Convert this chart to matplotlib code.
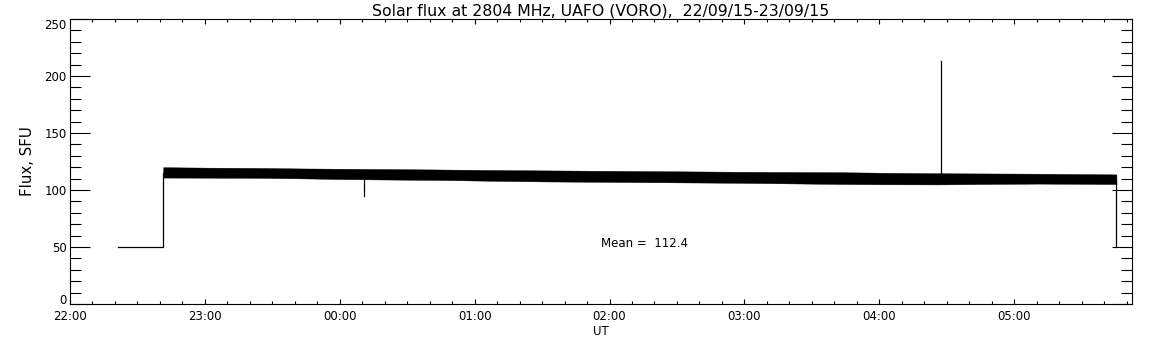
import matplotlib
matplotlib.use("Agg")
import matplotlib.pyplot as plt
from matplotlib.ticker import MultipleLocator, FixedLocator

# ---- data (time in hours after 22:00 UT, flux in SFU) ----
title = "Solar flux at 2804 MHz, UAFO (VORO),  22/09/15-23/09/15"
hour_ticks = [0, 1, 2, 3, 4, 5, 6, 7]
hour_labels = ["22:00", "23:00", "00:00", "01:00", "02:00", "03:00", "04:00", "05:00"]
flux_ticks = [0, 50, 100, 150, 200, 250]
flux_labels = ["0", "50", "100", "150", "200", "250"]

# calibration level before the observation
pre_hours = [0.356, 0.691, 0.691]
pre_flux = [50, 50, 115]

# envelope of the densely sampled (noisy) flux record
band_hours = [0.691, 1.03, 1.37, 1.72, 2.07, 2.44, 2.81, 3.17, 3.52, 3.89,
              4.26, 4.61, 4.96, 5.33, 5.70, 6.07, 6.44, 6.81, 7.19, 7.48, 7.758]
band_upper = [120.0, 119.6, 119.4, 118.9, 118.6, 118.3, 117.9, 117.5, 117.2, 116.9,
              116.6, 116.3, 116.0, 115.8, 115.6, 115.1, 114.7, 114.5, 114.3, 114.0, 113.7]
band_lower = [110.9, 110.8, 110.7, 110.2, 109.5, 109.1, 108.7, 108.0, 107.5, 107.2,
              106.9, 106.6, 106.3, 105.8, 105.3, 105.0, 104.9, 105.3, 105.6, 105.4, 105.2]

# isolated excursions: time, base level, extreme value
event_hours = [2.18, 6.46, 7.758]
event_base = [112.0, 110.0, 109.0]
event_peak = [95.0, 213.0, 50.0]

mean_label = "Mean =  112.4"
mean_pos = (3.94, 50.0)

# ---- figure ----
fig = plt.figure(figsize=(11.52, 3.45), dpi=100)
ax = fig.add_axes([70 / 1152, 1 - 304 / 345, 1061.5 / 1152, 285 / 345])

lw = 0.9
ax.plot(pre_hours, pre_flux, color="black", lw=lw)
ax.fill_between(band_hours, band_lower, band_upper, color="black", lw=0.3,
                edgecolor="black")
for h, b, p in zip(event_hours, event_base, event_peak):
    ax.plot([h, h], [b, p], color="black", lw=lw)

ax.text(mean_pos[0], mean_pos[1], mean_label, fontsize=8.5, ha="left",
        va="baseline", family="DejaVu Sans")

ax.set_xlim(0, 7.87)
ax.set_ylim(0, 250)

ax.xaxis.set_major_locator(FixedLocator(hour_ticks))
ax.set_xticklabels(hour_labels)
ax.xaxis.set_minor_locator(MultipleLocator(1 / 6))
ax.yaxis.set_major_locator(FixedLocator(flux_ticks))
ax.set_yticklabels(flux_labels)
ax.yaxis.set_minor_locator(MultipleLocator(10))

ax.tick_params(axis="x", which="major", direction="in", length=3.8, width=0.8,
               top=True, bottom=True, pad=4.5, labelsize=8.5)
ax.tick_params(axis="x", which="minor", direction="in", length=1.9, width=0.8,
               top=True, bottom=True)
ax.tick_params(axis="y", which="major", direction="in", length=14.5, width=0.8,
               left=True, right=True, pad=2.5, labelsize=8.5)
ax.tick_params(axis="y", which="minor", direction="in", length=7.9, width=0.8,
               left=True, right=True)
for s in ax.spines.values():
    s.set_linewidth(0.8)

# end labels kept inside the axis range, as in the original
ylabels = ax.get_yticklabels()
ylabels[0].set_va("baseline")
ylabels[-1].set_va("top")

ax.set_title(title, fontsize=11.3, pad=2)
ax.set_xlabel("UT", fontsize=8.5)
ax.set_ylabel("Flux, SFU", fontsize=10.8)
ax.xaxis.set_label_coords(0.5, -0.072)
ax.yaxis.set_label_coords(-0.033, 0.5)

fig.savefig("out.png", dpi=100)
